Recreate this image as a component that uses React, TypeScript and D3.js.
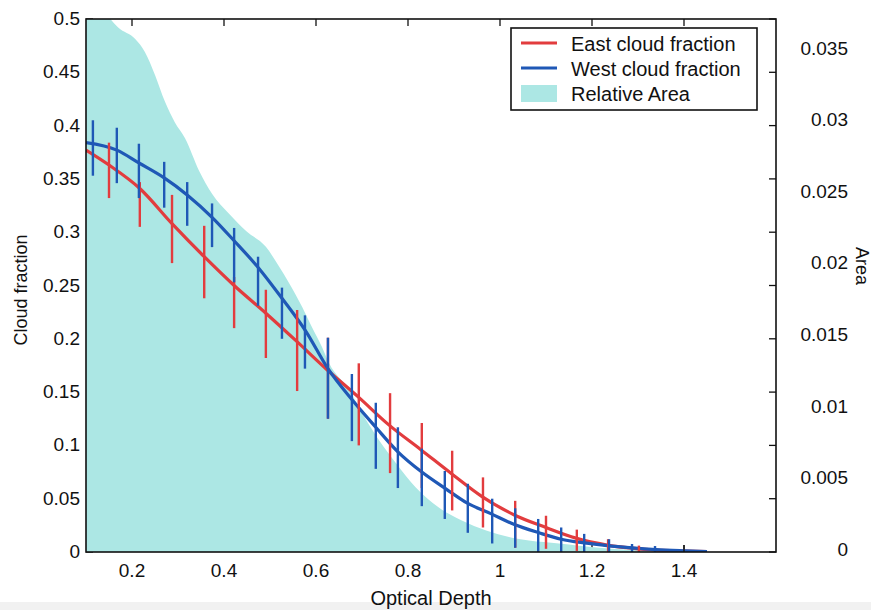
import React from 'react';
import * as d3 from 'd3';

// curves
const eastX = [0.1, 0.15, 0.217, 0.287, 0.357, 0.422, 0.491, 0.557, 0.624, 0.693, 0.759, 0.828, 0.896, 0.961, 1.03, 1.1, 1.165, 1.233, 1.302, 1.37, 1.45];
const eastY = [0.377, 0.363, 0.341, 0.308, 0.277, 0.25, 0.224, 0.198, 0.171, 0.145, 0.119, 0.096, 0.073, 0.052, 0.035, 0.023, 0.013, 0.0065, 0.003, 0.0012, 0.0003];

const westX = [0.1, 0.167, 0.215, 0.27, 0.32, 0.374, 0.422, 0.476, 0.526, 0.578, 0.626, 0.678, 0.73, 0.778, 0.83, 0.883, 0.928, 0.98, 1.03, 1.085, 1.133, 1.183, 1.237, 1.287, 1.339, 1.404, 1.45];
const westY = [0.384, 0.377, 0.365, 0.351, 0.335, 0.314, 0.292, 0.266, 0.238, 0.207, 0.172, 0.143, 0.117, 0.094, 0.075, 0.059, 0.046, 0.036, 0.026, 0.018, 0.012, 0.0085, 0.0058, 0.0038, 0.0022, 0.001, 0.0003];

// error bars
const eastBarX = [0.15, 0.217, 0.287, 0.357, 0.422, 0.491, 0.559, 0.626, 0.693, 0.761, 0.83, 0.896, 0.963, 1.033, 1.1, 1.167, 1.235, 1.302];
const eastBarHi = [0.384, 0.347, 0.335, 0.306, 0.258, 0.246, 0.227, 0.201, 0.177, 0.149, 0.121, 0.095, 0.07, 0.048, 0.034, 0.021, 0.012, 0.006];
const eastBarLo = [0.332, 0.305, 0.271, 0.238, 0.21, 0.182, 0.151, 0.125, 0.1, 0.074, 0.06, 0.039, 0.023, 0.004, 0.003, 0.001, 0, 0];

const westBarX = [0.115, 0.167, 0.215, 0.27, 0.32, 0.374, 0.422, 0.474, 0.526, 0.576, 0.626, 0.678, 0.73, 0.778, 0.83, 0.88, 0.93, 0.983, 1.033, 1.083, 1.133, 1.183, 1.237, 1.287, 1.337];
const westBarHi = [0.405, 0.398, 0.383, 0.366, 0.347, 0.327, 0.304, 0.277, 0.248, 0.222, 0.201, 0.167, 0.14, 0.117, 0.097, 0.076, 0.064, 0.05, 0.041, 0.031, 0.023, 0.017, 0.012, 0.0075, 0.0056];
const westBarLo = [0.353, 0.346, 0.332, 0.323, 0.306, 0.286, 0.253, 0.231, 0.2, 0.172, 0.125, 0.104, 0.078, 0.06, 0.043, 0.031, 0.018, 0.008, 0.004, 0, 0, 0, 0, 0, 0];

// relative area (right axis)
const areaX = [0.1, 0.125, 0.15, 0.17, 0.207, 0.228, 0.25, 0.272, 0.293, 0.315, 0.346, 0.374, 0.411, 0.448, 0.491, 0.52, 0.541, 0.57, 0.591, 0.613, 0.628, 0.672, 0.7, 0.737, 0.774, 0.817, 0.867, 0.917, 0.97, 1.026, 1.063, 1.128, 1.215, 1.324, 1.433];
const areaY = [0.0386, 0.0381, 0.0373, 0.0366, 0.0358, 0.0349, 0.0333, 0.0314, 0.03, 0.0289, 0.0266, 0.025, 0.0236, 0.0224, 0.0213, 0.0199, 0.0188, 0.0171, 0.0157, 0.0143, 0.0132, 0.0113, 0.0097, 0.0078, 0.0062, 0.0045, 0.0031, 0.0022, 0.0015, 0.001, 0.0008, 0.0006, 0.0003, 0.0001, 0];

const xTicks = [0.2, 0.4, 0.6, 0.8, 1, 1.2, 1.4];
const xTickLabels = ['0.2', '0.4', '0.6', '0.8', '1', '1.2', '1.4'];
const yTicks = [0, 0.05, 0.1, 0.15, 0.2, 0.25, 0.3, 0.35, 0.4, 0.45, 0.5];
const yTickLabels = ['0', '0.05', '0.1', '0.15', '0.2', '0.25', '0.3', '0.35', '0.4', '0.45', '0.5'];
const areaTicks = [0, 0.005, 0.01, 0.015, 0.02, 0.025, 0.03, 0.035];
const areaTickLabels = ['0', '0.005', '0.01', '0.015', '0.02', '0.025', '0.03', '0.035'];

const RED = '#e23c3e';
const BLUE = '#1f58b6';
const CYAN = '#ace7e4';
const FONT = '"Liberation Sans", Arial, sans-serif';

const App = () => {
  const left = 86, right = 776, top = 19, bottom = 552;
  const x = d3.scaleLinear().domain([0.1, 1.6]).range([left, right]);
  const y = d3.scaleLinear().domain([0, 0.5]).range([bottom, top]);
  const yA = d3.scaleLinear().domain([0, 0.0372]).range([bottom, top]);

  const line = d3.line<[number, number]>()
    .x(d => x(d[0]))
    .y(d => y(d[1]))
    .curve(d3.curveMonotoneX);

  const area = d3.area<[number, number]>()
    .x(d => x(d[0]))
    .y0(bottom)
    .y1(d => yA(d[1]))
    .curve(d3.curveMonotoneX);

  const east = eastX.map((v, i) => [v, eastY[i]] as [number, number]);
  const west = westX.map((v, i) => [v, westY[i]] as [number, number]);
  const rel = areaX.map((v, i) => [v, areaY[i]] as [number, number]);

  const tl = 7;

  return (
    <svg width={871} height={610} style={{ position: 'absolute', left: 0, top: 0, background: '#fff' }} fontFamily={FONT}>
      <rect x={0} y={602} width={871} height={8} fill="#f1f1f1" />
      <defs>
        <clipPath id="plot">
          <rect x={left} y={top} width={right - left} height={bottom - top} />
        </clipPath>
      </defs>

      {/* ticks hidden under the area */}
      <g stroke="#111" strokeWidth={1.3}>
        {yTicks.map(t => <line key={'l' + t} x1={left} x2={left + tl} y1={y(t)} y2={y(t)} />)}
        {xTicks.map(t => <line key={'b' + t} x1={x(t)} x2={x(t)} y1={bottom} y2={bottom - tl} />)}
      </g>

      <path d={area(rel) || ''} fill={CYAN} clipPath="url(#plot)" />

      <g clipPath="url(#plot)" fill="none">
        <path d={line(east) || ''} stroke={RED} strokeWidth={3.2} />
        <path d={line(west) || ''} stroke={BLUE} strokeWidth={3.2} />
        {eastBarX.map((v, i) => (
          <line key={'eb' + i} x1={x(v)} x2={x(v)} y1={y(eastBarLo[i])} y2={y(eastBarHi[i])} stroke={RED} strokeWidth={2.4} />
        ))}
        {westBarX.map((v, i) => (
          <line key={'wb' + i} x1={x(v)} x2={x(v)} y1={y(westBarLo[i])} y2={y(westBarHi[i])} stroke={BLUE} strokeWidth={2.4} />
        ))}
      </g>

      <g stroke="#111" strokeWidth={1.3}>
        {xTicks.map(t => <line key={'t' + t} x1={x(t)} x2={x(t)} y1={top} y2={top + tl} />)}
        {yTicks.map(t => <line key={'r' + t} x1={right} x2={right - tl} y1={y(t)} y2={y(t)} />)}
        {xTicks.filter(t => t > 1.3).map(t => <line key={'bb' + t} x1={x(t)} x2={x(t)} y1={bottom} y2={bottom - tl} />)}
      </g>
      <rect x={left} y={top} width={right - left} height={bottom - top} fill="none" stroke="#111" strokeWidth={1.6} />

      <g fontSize={19} fill="#111">
        {yTicks.map((t, i) => (
          <text key={'yl' + t} x={80} y={y(t) + 6} textAnchor="end">{yTickLabels[i]}</text>
        ))}
        {xTicks.map((t, i) => (
          <text key={'xl' + t} x={x(t)} y={577} textAnchor="middle">{xTickLabels[i]}</text>
        ))}
        {areaTicks.map((t, i) => (
          <text key={'al' + t} x={848} y={yA(t) + 4} textAnchor="end">{areaTickLabels[i]}</text>
        ))}
      </g>

      <text x={431} y={605} textAnchor="middle" fontSize={20} fill="#111">Optical Depth</text>
      <text transform="translate(27,290) rotate(-90)" textAnchor="middle" fontSize={18} fill="#111">Cloud fraction</text>
      <text transform="translate(856,266) rotate(90)" textAnchor="middle" fontSize={18} fill="#111">Area</text>

      <g>
        <rect x={511} y={28} width={246} height={82} fill="#fff" stroke="#111" strokeWidth={1.6} />
        <line x1={521} x2={557} y1={43} y2={43} stroke={RED} strokeWidth={3.2} />
        <line x1={521} x2={557} y1={68} y2={68} stroke={BLUE} strokeWidth={3.2} />
        <rect x={521} y={85} width={36} height={17} fill={CYAN} />
        <g fontSize={20} fill="#111">
          <text x={571} y={51}>East cloud fraction</text>
          <text x={571} y={76}>West cloud fraction</text>
          <text x={571} y={101}>Relative Area</text>
        </g>
      </g>
    </svg>
  );
};

export default App;
